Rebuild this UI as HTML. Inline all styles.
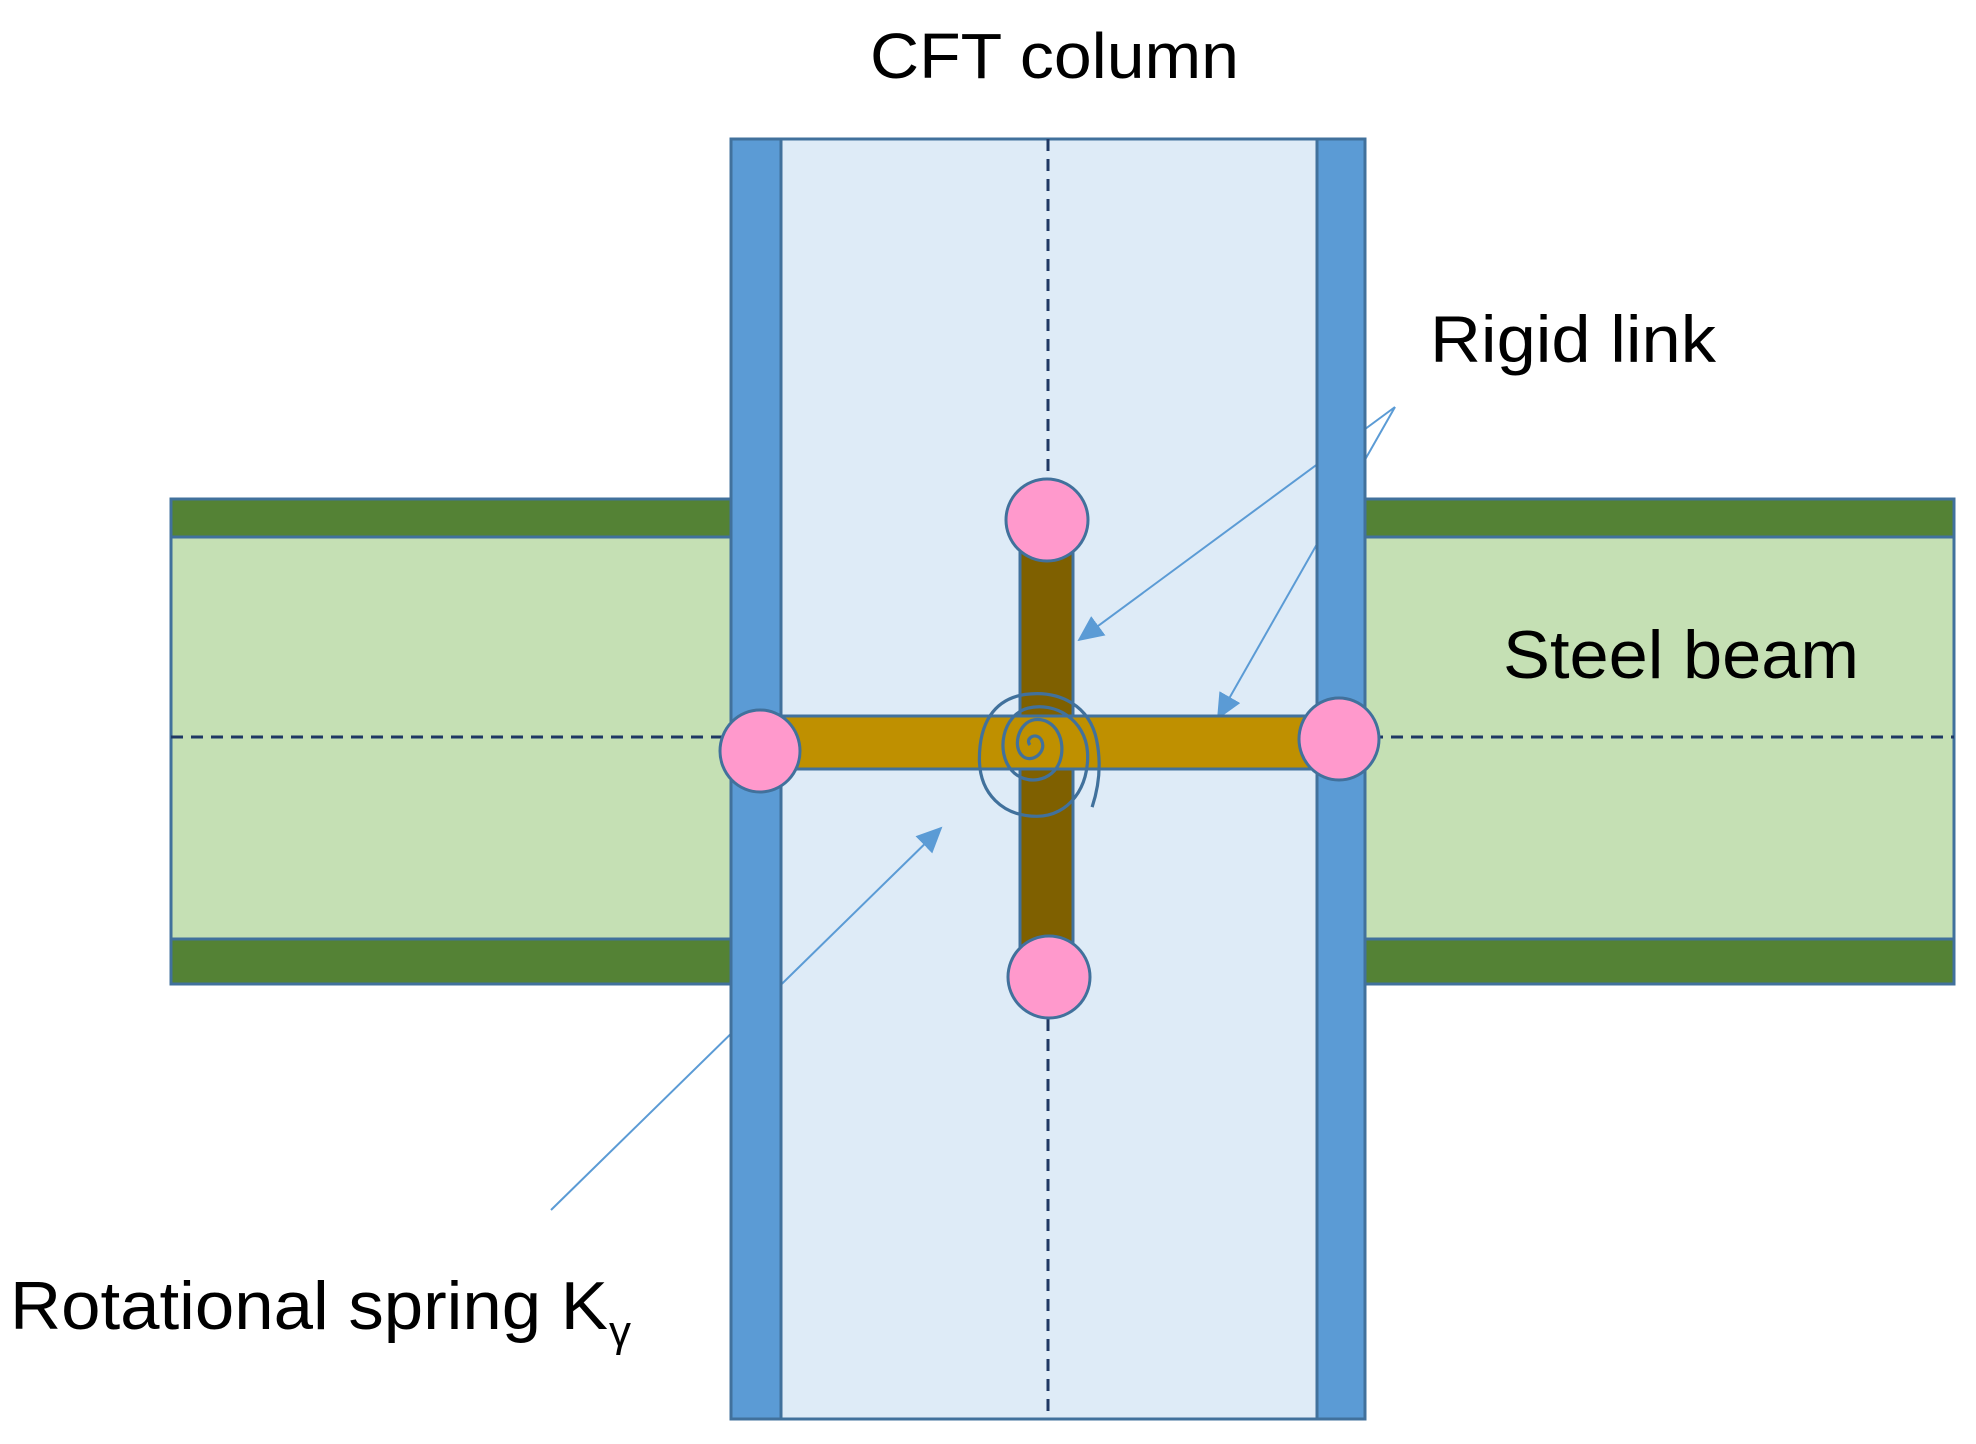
<!DOCTYPE html>
<html><head><meta charset="utf-8"><style>
html,body{margin:0;padding:0;background:#fff;}
svg{display:block;}
text{font-family:"Liberation Sans",sans-serif;fill:#000;}
</style></head><body>
<svg width="1976" height="1444" viewBox="0 0 1976 1444" xmlns="http://www.w3.org/2000/svg">
<defs>
<marker id="ah2" markerWidth="26" markerHeight="24" refX="24" refY="12" orient="auto" markerUnits="userSpaceOnUse">
<path d="M0,0 L26,12 L0,24 z" fill="#5b9bd5"/>
</marker>
</defs>
<rect x="171" y="499" width="560" height="485" fill="#c5e0b4" stroke="#41719c" stroke-width="3"/>
<rect x="171" y="499" width="560" height="38" fill="#548235" stroke="#41719c" stroke-width="3"/>
<rect x="171" y="939" width="560" height="45" fill="#548235" stroke="#41719c" stroke-width="3"/>
<rect x="1365" y="499" width="589" height="485" fill="#c5e0b4" stroke="#41719c" stroke-width="3"/>
<rect x="1365" y="499" width="589" height="38" fill="#548235" stroke="#41719c" stroke-width="3"/>
<rect x="1365" y="939" width="589" height="45" fill="#548235" stroke="#41719c" stroke-width="3"/>
<rect x="731" y="139" width="634" height="1280" fill="#deebf7" stroke="#41719c" stroke-width="3"/>
<line x1="1048" y1="139" x2="1048" y2="1419" stroke="#1f3864" stroke-width="3" stroke-dasharray="12,8"/>
<line x1="171" y1="737" x2="1954" y2="737" stroke="#1f3864" stroke-width="3" stroke-dasharray="12,8"/>
<line x1="1395" y1="407" x2="1079" y2="640" stroke="#5b9bd5" stroke-width="2" marker-end="url(#ah2)"/>
<line x1="1395" y1="407" x2="1218" y2="718" stroke="#5b9bd5" stroke-width="2" marker-end="url(#ah2)"/>
<line x1="551" y1="1210" x2="941" y2="828" stroke="#5b9bd5" stroke-width="2" marker-end="url(#ah2)"/>
<rect x="731" y="139" width="50" height="1280" fill="#5b9bd5" stroke="#41719c" stroke-width="3"/>
<rect x="1317" y="139" width="48" height="1280" fill="#5b9bd5" stroke="#41719c" stroke-width="3"/>
<rect x="1020" y="540" width="53" height="420" fill="#7f6000" stroke="#41719c" stroke-width="3"/>
<rect x="781" y="716" width="536" height="53" fill="#bf9000" stroke="#41719c" stroke-width="3"/>
<g transform="translate(1030,745) scale(1.15) translate(-1030,-745)">
<path d="M1030,745 c-5,-6 6,-12 10,-4 c5,10 -8,20 -16,14 c-10,-8 -4,-30 10,-32 c18,-2 28,18 22,36 c-6,18 -30,22 -42,8 c-14,-16 -8,-48 14,-54 c24,-6 50,10 52,38 c2,30 -16,56 -44,56 c-30,0 -50,-20 -50,-50 c0,-30 12,-52 40,-56 c30,-4 56,10 62,40 c4,20 2,40 -4,58" fill="none" stroke="#41719c" stroke-width="2.8"/>
</g>
<ellipse cx="1047" cy="520" rx="41" ry="41" fill="#ff99cc" stroke="#41719c" stroke-width="3"/>
<ellipse cx="1049" cy="977" rx="41" ry="41" fill="#ff99cc" stroke="#41719c" stroke-width="3"/>
<ellipse cx="760" cy="751" rx="40" ry="41" fill="#ff99cc" stroke="#41719c" stroke-width="3"/>
<ellipse cx="1339" cy="739" rx="40" ry="41" fill="#ff99cc" stroke="#41719c" stroke-width="3"/>
<text x="870" y="78" font-size="64" textLength="369" lengthAdjust="spacingAndGlyphs">CFT column</text>
<text x="1430" y="362" font-size="66" textLength="286" lengthAdjust="spacingAndGlyphs">Rigid link</text>
<text x="1503" y="678" font-size="68" textLength="356" lengthAdjust="spacingAndGlyphs">Steel beam</text>
<text x="10" y="1329" font-size="68" textLength="598" lengthAdjust="spacingAndGlyphs">Rotational spring K</text>
<text x="609" y="1346" font-size="44">γ</text>
</svg>
</body></html>
